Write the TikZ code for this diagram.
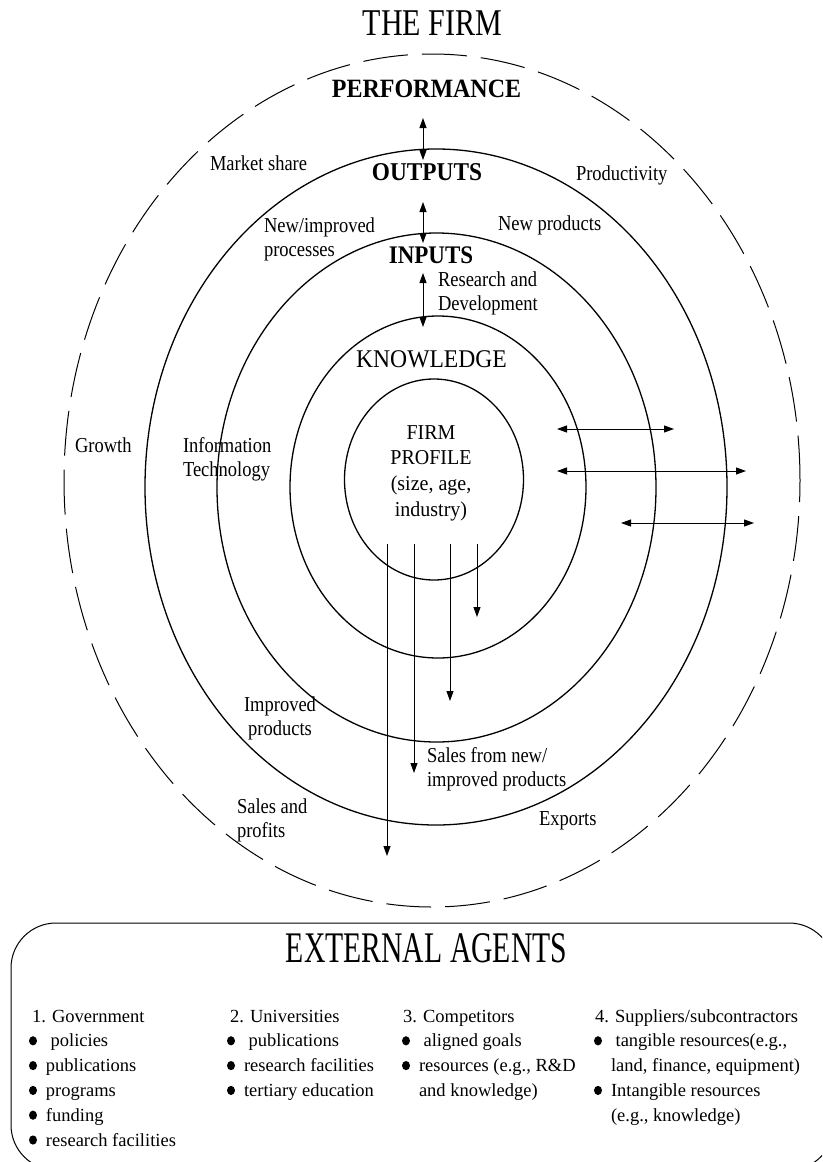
\documentclass[tikz,border=0pt]{standalone}
\usepackage{fontspec}
\usepackage{graphicx}
\setmainfont{Liberation Serif}
\usetikzlibrary{arrows.meta}
\newcommand{\fs}[2]{\fontsize{#1}{#2}\selectfont}
\newcommand{\Lt}[1]{\begin{tabular}[t]{@{}l@{}}#1\end{tabular}}
\newcommand{\Ct}[1]{\begin{tabular}[t]{@{}c@{}}#1\end{tabular}}
\newcommand{\vs}[2]{\scalebox{1}[#1]{#2}}
\newcommand{\nb}{\makebox[17pt][l]{}}
\tikzset{
  lbl/.style={inner sep=0pt, outer sep=0pt, font=\fs{18.5}{20.9}},
  lw/.style={lbl, anchor=base west},
  lc/.style={lbl, anchor=base},
  big/.style={inner sep=0pt, outer sep=0pt, anchor=base},
  lst/.style={inner sep=0pt, outer sep=0pt, anchor=base west, font=\fs{18.5}{24.8}},
  ring/.style={line width=1.3pt},
  dring/.style={line width=1pt, dash pattern=on 45pt off 14pt},
  tip/.tip={Triangle[length=10pt,width=7pt]},
  arr/.style={line width=0.9pt, -tip},
  darr/.style={line width=0.9pt, tip-tip},
}
\begin{document}
\begin{tikzpicture}[x=1pt,y=-1pt]
\useasboundingbox (0,0) rectangle (822,1162);
\clip (0,0) rectangle (822,1162);

% rings
\draw[dring] (432,480.5) ellipse (368pt and 426.5pt);
\draw[ring] (436,487) ellipse (291pt and 338pt);
\draw[ring] (436.5,487.5) ellipse (219.5pt and 254.5pt);
\draw[ring] (438,487) ellipse (148pt and 171pt);
\draw[ring] (434,479.5) ellipse (89.5pt and 100.5pt);

% titles
\node[big, font=\fs{30}{36}] (firm) at (432.5,35) {\vs{1.26}{THE FIRM}};
\node[big, font=\fs{24}{28}\bfseries] (perf) at (426.5,97) {\vs{1.1}{PERFORMANCE}};
\node[big, font=\fs{23.3}{28}\bfseries] (outp) at (427,180) {\vs{1.1}{OUTPUTS}};
\node[big, font=\fs{23}{28}\bfseries] (inp) at (431,263) {\vs{1.1}{INPUTS}};
\node[big, font=\fs{23.6}{28}] (know) at (431.5,367) {\vs{1.08}{KNOWLEDGE}};
\node[big, font=\fs{20}{24.5}] (prof) at (431,439) {\vs{1.06}{\Ct{FIRM\\PROFILE\\(size, age,\\industry)}}};

% labels
\node[lw] (mkt) at (210,170) {\vs{1.15}{Market share}};
\node[lw] (prod) at (576,180) {\vs{1.15}{Productivity}};
\node[lw] (nproc) at (264,232) {\vs{1.15}{\Lt{New/improved\\processes}}};
\node[lw] (nprod) at (498,230) {\vs{1.15}{New products}};
\node[lw] (rnd) at (438,286) {\vs{1.15}{\Lt{Research and\\Development}}};
\node[lw] (growth) at (75,452) {\vs{1.15}{Growth}};
\node[lw] (info) at (183,452) {\vs{1.15}{\Lt{Information\\Technology}}};
\node[lc] (impr) at (280,711) {\vs{1.15}{\Ct{Improved\\products}}};
\node[lw] (snew) at (427,762) {\vs{1.15}{\Lt{Sales from new/\\improved products}}};
\node[lw] (sprof) at (237,813) {\vs{1.15}{\Lt{Sales and\\profits}}};
\node[lw] (exp) at (539,825) {\vs{1.15}{Exports}};

% vertical double arrows
\coordinate (v1t) at (423,118); \coordinate (v1b) at (423,160);
\coordinate (v2t) at (423,202); \coordinate (v2b) at (423,243);
\coordinate (v3t) at (423,273); \coordinate (v3b) at (423,327);
\draw[darr] (v1t) -- (v1b);
\draw[darr] (v2t) -- (v2b);
\draw[darr] (v3t) -- (v3b);

% horizontal double arrows
\coordinate (h1l) at (557,429); \coordinate (h1r) at (674,429);
\coordinate (h2l) at (557,471); \coordinate (h2r) at (746,471);
\coordinate (h3l) at (621,523); \coordinate (h3r) at (754,523);
\draw[darr] (h1l) -- (h1r);
\draw[darr] (h2l) -- (h2r);
\draw[darr] (h3l) -- (h3r);

% downward arrows
\coordinate (d1s) at (387,544); \coordinate (d1e) at (387,856);
\coordinate (d2s) at (414,544); \coordinate (d2e) at (414,773);
\coordinate (d3s) at (450,544); \coordinate (d3e) at (450,701);
\coordinate (d4s) at (477,544); \coordinate (d4e) at (477,617);
\draw[arr] (d1s) -- (d1e);
\draw[arr] (d2s) -- (d2e);
\draw[arr] (d3s) -- (d3e);
\draw[arr] (d4s) -- (d4e);

% external agents
\draw[line width=1pt, rounded corners=45pt] (11,923) rectangle (834,1170);
\node[big, font=\fs{29.7}{34}] (ext) at (426.5,962) {\vs{1.47}{EXTERNAL AGENTS}};
\node[lst] (gov) at (29,1022) {\Lt{\hspace{3pt}1. Government\\ \nb\ policies\\ \nb publications\\ \nb programs\\ \nb funding\\ \nb research facilities}};
\node[lst] (uni) at (227,1022) {\Lt{\hspace{3pt}2. Universities\\ \nb\ publications\\ \nb research facilities\\ \nb tertiary education}};
\node[lst] (comp) at (402,1022) {\Lt{\hspace{1pt}3. Competitors\\ \nb\ aligned goals\\ \nb resources (e.g., R\&D\\ \nb and knowledge)}};
\node[lst] (sup) at (594,1022) {\Lt{\hspace{1pt}4. Suppliers/subcontractors\\ \nb\ tangible resources(e.g.,\\ \nb land, finance, equipment)\\ \nb Intangible resources\\ \nb (e.g., knowledge)}};
% bullets
\foreach \k in {1,...,5} \fill (33,1016+24.8*\k) ellipse (4pt and 4.6pt);
\foreach \k in {1,...,3} \fill (231,1016+24.8*\k) ellipse (4pt and 4.6pt);
\foreach \k in {1,2} \fill (406,1016+24.8*\k) ellipse (4pt and 4.6pt);
\foreach \k in {1,3} \fill (598,1016+24.8*\k) ellipse (4pt and 4.6pt);
\end{tikzpicture}
\end{document}
